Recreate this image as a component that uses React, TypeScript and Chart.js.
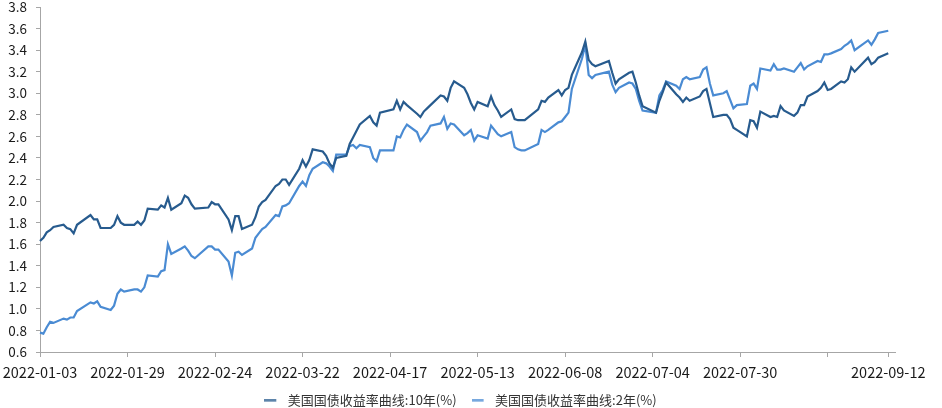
import { Chart, registerables } from 'chart.js';
import { useEffect, useRef } from 'react';

Chart.register(...registerables);

// trading days (2022), grouped by month
const tradeDays: string[] = [
   '01-03', '01-04', '01-05', '01-06', '01-07', '01-10', '01-11', '01-12', '01-13', '01-14',
   '01-18', '01-19', '01-20', '01-21', '01-24', '01-25', '01-26', '01-27', '01-28', '01-31',
   '02-01', '02-02', '02-03', '02-04', '02-07', '02-08', '02-09', '02-10', '02-11', '02-14',
   '02-15', '02-16', '02-17', '02-18', '02-22', '02-23', '02-24', '02-25', '02-28',
   '03-01', '03-02', '03-03', '03-04', '03-07', '03-08', '03-09', '03-10', '03-11', '03-14',
   '03-15', '03-16', '03-17', '03-18', '03-21', '03-22', '03-23', '03-24', '03-25', '03-28',
   '03-29', '03-30', '03-31',
   '04-01', '04-04', '04-05', '04-06', '04-07', '04-08', '04-11', '04-12', '04-13', '04-14',
   '04-18', '04-19', '04-20', '04-21', '04-22', '04-25', '04-26', '04-27', '04-28', '04-29',
   '05-02', '05-03', '05-04', '05-05', '05-06', '05-09', '05-10', '05-11', '05-12', '05-13',
   '05-16', '05-17', '05-18', '05-19', '05-20', '05-23', '05-24', '05-25', '05-26', '05-27',
   '05-31',
   '06-01', '06-02', '06-03', '06-06', '06-07', '06-08', '06-09', '06-10', '06-13', '06-14',
   '06-15', '06-16', '06-17', '06-21', '06-22', '06-23', '06-24', '06-27', '06-28', '06-29',
   '06-30',
   '07-01', '07-05', '07-06', '07-07', '07-08', '07-11', '07-12', '07-13', '07-14', '07-15',
   '07-18', '07-19', '07-20', '07-21', '07-22', '07-25', '07-26', '07-27', '07-28', '07-29',
   '08-01', '08-02', '08-03', '08-04', '08-05', '08-08', '08-09', '08-10', '08-11', '08-12',
   '08-15', '08-16', '08-17', '08-18', '08-19', '08-22', '08-23', '08-24', '08-25', '08-26',
   '08-29', '08-30', '08-31',
   '09-01', '09-02', '09-06', '09-07', '09-08', '09-09', '09-12',
];

// 美国国债收益率曲线:10年(%)
const yield10Y: number[] = [
   1.63, 1.66, 1.71, 1.73, 1.76, 1.78, 1.75, 1.74, 1.70, 1.78,
   1.87, 1.83, 1.83, 1.75, 1.75, 1.78, 1.86, 1.80, 1.78, 1.78,
   1.81, 1.78, 1.82, 1.93, 1.92, 1.96, 1.94, 2.03, 1.92, 1.98,
   2.05, 2.03, 1.97, 1.93, 1.94, 1.99, 1.97, 1.97, 1.83,
   1.73, 1.86, 1.86, 1.74, 1.78, 1.85, 1.95, 1.99, 2.01, 2.14,
   2.16, 2.20, 2.20, 2.15, 2.30, 2.38, 2.32, 2.38, 2.48, 2.46,
   2.42, 2.35, 2.31,
   2.40, 2.42, 2.53, 2.59, 2.65, 2.71, 2.79, 2.73, 2.70, 2.82,
   2.85, 2.93, 2.85, 2.92, 2.89, 2.81, 2.78, 2.83, 2.86, 2.89,
   2.98, 2.97, 2.93, 3.05, 3.11, 3.05, 2.99, 2.91, 2.85, 2.92,
   2.88, 2.97, 2.89, 2.84, 2.78, 2.85, 2.76, 2.75, 2.75, 2.75,
   2.85,
   2.93, 2.92, 2.96, 3.03, 2.98, 3.03, 3.05, 3.17, 3.38, 3.48,
   3.31, 3.27, 3.25, 3.30, 3.19, 3.09, 3.13, 3.19, 3.20, 3.10,
   2.98,
   2.88, 2.82, 2.93, 3.01, 3.10, 2.99, 2.96, 2.92, 2.96, 2.93,
   2.97, 3.02, 3.04, 2.91, 2.78, 2.80, 2.80, 2.76, 2.68, 2.66,
   2.60, 2.75, 2.74, 2.68, 2.83, 2.78, 2.79, 2.78, 2.88, 2.84,
   2.79, 2.82, 2.89, 2.89, 2.97, 3.02, 3.05, 3.10, 3.03, 3.04,
   3.11, 3.10, 3.13,
   3.24, 3.20, 3.33, 3.27, 3.29, 3.33, 3.37,
];

// 美国国债收益率曲线:2年(%)
const yield2Y: number[] = [
   0.78, 0.77, 0.83, 0.88, 0.87, 0.91, 0.90, 0.92, 0.92, 0.98,
   1.06, 1.05, 1.07, 1.02, 0.99, 1.03, 1.14, 1.18, 1.16, 1.18,
   1.18, 1.16, 1.20, 1.31, 1.30, 1.35, 1.36, 1.60, 1.51, 1.56,
   1.58, 1.54, 1.49, 1.47, 1.58, 1.58, 1.55, 1.55, 1.44,
   1.31, 1.52, 1.53, 1.50, 1.56, 1.66, 1.70, 1.74, 1.76, 1.87,
   1.86, 1.95, 1.96, 1.98, 2.14, 2.18, 2.14, 2.24, 2.30, 2.36,
   2.35, 2.32, 2.28,
   2.43, 2.43, 2.51, 2.52, 2.49, 2.52, 2.50, 2.40, 2.37, 2.47,
   2.47, 2.60, 2.59, 2.66, 2.71, 2.64, 2.56, 2.60, 2.64, 2.70,
   2.72, 2.78, 2.67, 2.72, 2.71, 2.61, 2.63, 2.66, 2.56, 2.61,
   2.58, 2.70, 2.66, 2.62, 2.60, 2.64, 2.50, 2.48, 2.47, 2.47,
   2.53,
   2.66, 2.64, 2.66, 2.73, 2.74, 2.78, 2.82, 3.04, 3.32, 3.45,
   3.17, 3.14, 3.17, 3.20, 3.08, 3.01, 3.05, 3.10, 3.09, 3.04,
   2.93,
   2.84, 2.82, 2.98, 3.03, 3.11, 3.07, 3.04, 3.13, 3.15, 3.13,
   3.15, 3.22, 3.24, 3.09, 2.98, 3.00, 3.02, 2.94, 2.86, 2.89,
   2.90, 3.07, 3.09, 3.04, 3.23, 3.21, 3.27, 3.22, 3.22, 3.23,
   3.20, 3.24, 3.28, 3.22, 3.25, 3.30, 3.29, 3.36, 3.36, 3.37,
   3.41, 3.44, 3.46,
   3.49, 3.40, 3.49, 3.45, 3.50, 3.56, 3.58,
];

// x axis: calendar days, labelled every 26 days plus the last date
const axisStart = '2022-01-03';
const axisEnd = '2022-09-14';
const labelledTicks: string[] = [
   '2022-01-03', '2022-01-29', '2022-02-24', '2022-03-22', '2022-04-17',
   '2022-05-13', '2022-06-08', '2022-07-04', '2022-07-30', '2022-09-12',
];
const blankTicks: string[] = ['2022-08-25'];

const seriesNames = ['美国国债收益率曲线:10年(%)', '美国国债收益率曲线:2年(%)'];
const seriesColors = ['#275b8e', '#4a8bd3'];

function calendarDays(from: string, to: string): string[] {
   const out: string[] = [];
   const end = Date.parse(to + 'T00:00:00Z');
   for (let t = Date.parse(from + 'T00:00:00Z'); t <= end; t += 86400000) {
      out.push(new Date(t).toISOString().slice(0, 10));
   }
   return out;
}

// legend marker: short line, with some empty room on its right
function legendMarker(color: string): HTMLCanvasElement {
   const c = document.createElement('canvas');
   c.width = 17;
   c.height = 3;
   const g = c.getContext('2d');
   if (g) {
      g.fillStyle = color;
      g.fillRect(0, 0.5, 12, 2);
   }
   return c;
}

// legend sits centred on the page, not on the (right-padded) layout width
const legendShift = {
   id: 'legendShift',
   afterLayout(chart: any) {
      const l = chart.legend;
      if (l) {
         l.left += 13;
         l.right += 13;
      }
   },
};

const FONT = '"Microsoft YaHei", "Noto Sans CJK SC", sans-serif';
const AXIS_GRAY = '#a6a6a6';

export default function App() {
   const chartRef = useRef<HTMLCanvasElement>(null);
   const chartInstance = useRef<Chart | null>(null);

   useEffect(() => {
      if (!chartRef.current) return;
      if (chartInstance.current) {
         chartInstance.current.destroy();
      }
      const ctx = chartRef.current.getContext('2d');
      if (!ctx) return;

      const days = calendarDays(axisStart, axisEnd);
      const toPoints = (vals: number[]) =>
         tradeDays.map((d, i) => ({ x: '2022-' + d, y: vals[i] }));
      const isTick = (i: number) =>
         labelledTicks.includes(days[i]) || blankTicks.includes(days[i]);

      chartInstance.current = new Chart(ctx, {
         type: 'line',
         data: {
            labels: days,
            datasets: [yield10Y, yield2Y].map((vals, k) => ({
               label: seriesNames[k],
               data: toPoints(vals),
               borderColor: seriesColors[k],
               backgroundColor: seriesColors[k],
               borderWidth: 2.2,
               pointRadius: 0,
               pointStyle: legendMarker(seriesColors[k]),
               tension: 0,
            })),
         },
         plugins: [legendShift],
         options: {
            responsive: true,
            maintainAspectRatio: false,
            animation: false,
            layout: {
               padding: { top: 7, right: 47, bottom: -8.5, left: 0 },
            },
            scales: {
               x: {
                  type: 'category',
                  offset: false,
                  border: { display: true, color: AXIS_GRAY, width: 1 },
                  grid: {
                     drawOnChartArea: false,
                     drawTicks: true,
                     tickLength: 5,
                     color: (c: any) => (isTick(c.index) ? AXIS_GRAY : 'rgba(0,0,0,0)'),
                  },
                  ticks: {
                     autoSkip: false,
                     maxRotation: 0,
                     padding: 6.5,
                     color: '#1a1a1a',
                     font: { family: FONT, size: 14.5 },
                     callback: (_v: any, i: number) =>
                        labelledTicks.includes(days[i]) ? days[i] : '',
                  },
                  afterFit: (scale: any) => {
                     scale.height = 26.5;
                     // end labels may overhang the plot edges
                     scale.paddingLeft = 0;
                     scale.paddingRight = 0;
                  },
               },
               y: {
                  min: 0.6,
                  max: 3.8,
                  border: { display: true, color: AXIS_GRAY, width: 1 },
                  grid: {
                     drawOnChartArea: false,
                     drawTicks: true,
                     tickLength: 4,
                     color: AXIS_GRAY,
                  },
                  ticks: {
                     stepSize: 0.2,
                     padding: 9,
                     color: '#1a1a1a',
                     font: { family: FONT, size: 13.5 },
                     callback: (v: any) => Number(v).toFixed(1),
                  },
                  afterFit: (scale: any) => {
                     scale.width = 40;
                     // keep the label overflow from pushing the plot down
                     scale.paddingTop = 0;
                     scale.paddingBottom = 0;
                  },
               },
            },
            plugins: {
               legend: {
                  position: 'bottom',
                  labels: {
                     usePointStyle: true,
                     pointStyleWidth: 17,
                     padding: 15,
                     color: '#333',
                     font: { family: FONT, size: 13 },
                  },
               },
               tooltip: { enabled: false },
            },
         },
      });

      return () => {
         if (chartInstance.current) {
            chartInstance.current.destroy();
            chartInstance.current = null;
         }
      };
   }, []);

   return (
      <div style={{ position: 'absolute', left: 0, top: 0, width: 942, height: 408, background: '#fff' }}>
         <canvas ref={chartRef} />
      </div>
   );
}
